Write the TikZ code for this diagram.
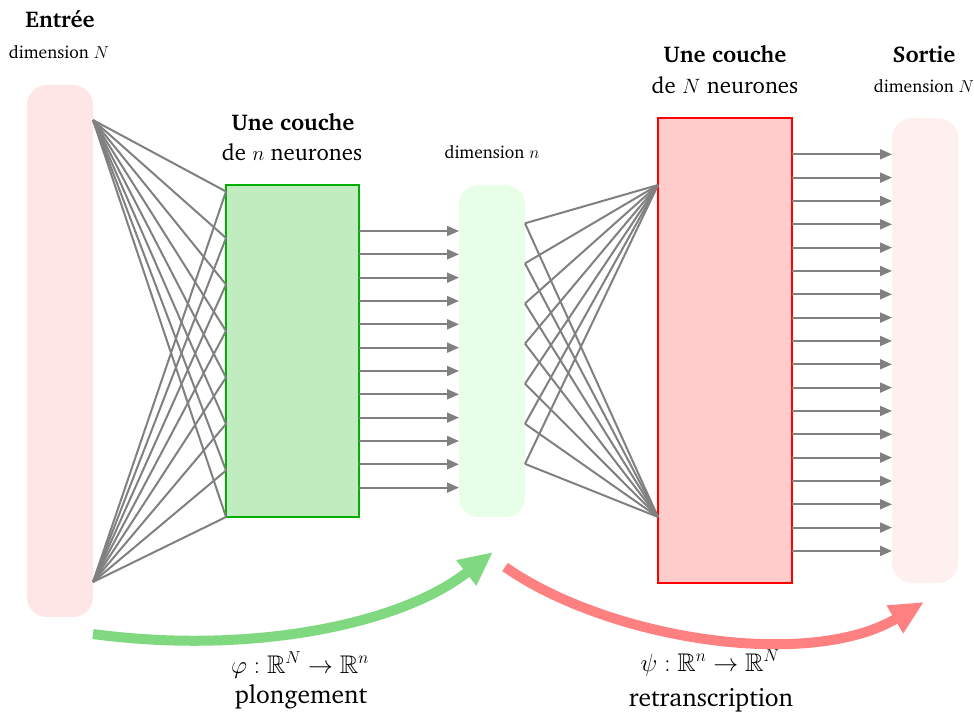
\documentclass[tikz,border=0pt]{standalone}
\usepackage[T1]{fontenc}
\usepackage{charter}
\usepackage{amssymb}
\usetikzlibrary{arrows.meta}
\definecolor{inbarc}{HTML}{FFE6E6}
\definecolor{outbarc}{HTML}{FFF0F0}
\definecolor{midbarc}{HTML}{E6FFE6}
\definecolor{gfillc}{HTML}{C0ECC0}
\definecolor{gdrawc}{HTML}{00B000}
\definecolor{rfillc}{HTML}{FFCCCC}
\definecolor{garrowc}{HTML}{80D880}
\definecolor{rarrowc}{HTML}{FF8080}
\definecolor{connc}{HTML}{808080}
\begin{document}
\begin{tikzpicture}[x=1pt,y=-1pt,
  bigtxt/.style={font=\fontsize{22.8}{27}\selectfont, anchor=base, inner sep=0pt},
  lowtxt/.style={font=\fontsize{25.5}{30}\selectfont, anchor=base, inner sep=0pt},
  smalltxt/.style={font=\fontsize{17.6}{21}\selectfont, anchor=base, inner sep=0pt},
  barbox/.style={rounded corners=20pt, inner sep=0pt, outer sep=0pt, anchor=north west, minimum width=66pt},
  layerbox/.style={line width=1.8pt, inner sep=0pt, outer sep=0pt, anchor=north west},
  conn/.style={draw=connc, line width=2pt},
  connarr/.style={draw=connc, line width=2pt, -{Triangle[length=12pt,width=10pt]}},
  bigarr/.style={line width=10pt, -{Triangle[length=34pt,width=30pt]}}]
\useasboundingbox (0,0) rectangle (974,713);

% bars and boxes
\node[barbox, fill=inbarc, minimum height=532pt] (in) at (27,85) {};
\node[layerbox, draw=gdrawc, fill=gfillc, minimum width=133pt, minimum height=332pt] (g) at (226,185) {};
\node[barbox, fill=midbarc, minimum height=332pt] (m) at (459,185) {};
\node[layerbox, draw=red, fill=rfillc, minimum width=134pt, minimum height=465pt] (r) at (658,118) {};
\node[barbox, fill=outbarc, minimum height=465pt] (o) at (892,118) {};

% input fan
\coordinate (in1) at (93,120);
\coordinate (in2) at (93,582);
\foreach \k in {0,...,7} {
  \coordinate (gl\k) at (226,191.5+46.5*\k);
  \draw[conn] (in1) -- (gl\k);
  \draw[conn] (in2) -- (gl\k);
}

% green layer outputs
\foreach \k in {0,...,11} {
  \draw[connarr] (g.east |- 0,231+23.33*\k) -- (m.west |- 0,231+23.33*\k);
}

% middle fan
\coordinate (r1) at (658,185);
\coordinate (r2) at (658,517);
\foreach \k in {0,...,6} {
  \coordinate (mr\k) at (525,223.3+40.1*\k);
  \draw[conn] (mr\k) -- (r1);
  \draw[conn] (mr\k) -- (r2);
}

% red layer outputs
\foreach \k in {0,...,17} {
  \draw[connarr] (r.east |- 0,154.3+23.33*\k) -- (o.west |- 0,154.3+23.33*\k);
}

% big arrows
\coordinate (ga) at (93,634);
\coordinate (gb) at (493,552);
\draw[bigarr, color=garrowc] (ga) .. controls (250,655) and (400,625) .. (gb);
\coordinate (ra) at (505,567);
\coordinate (rb) at (924,602);
\draw[bigarr, color=rarrowc] (ra) .. controls (610,640) and (810,670) .. (rb);

% labels
\node[bigtxt] (t1) at (60,27) {\textbf{Entr\'ee}};
\node[smalltxt] (t2) at (59,58) {dimension $N$};
\node[bigtxt] (t3) at (293,130) {\textbf{Une couche}};
\node[bigtxt] (t4) at (292,160) {de $n$ neurones};
\node[smalltxt] (t5) at (492,158) {dimension $n$};
\node[bigtxt] (t6) at (725,62) {\textbf{Une couche}};
\node[bigtxt] (t7) at (725,93) {de $N$ neurones};
\node[bigtxt] (t8) at (924,62) {\textbf{Sortie}};
\node[smalltxt] (t9) at (924,92) {dimension $N$};
\node[lowtxt] (t10) at (300,673) {$\varphi:\mathbb{R}^N\to\mathbb{R}^n$};
\node[lowtxt] (t11) at (301,703) {plongement};
\node[lowtxt] (t12) at (710,671) {$\psi:\mathbb{R}^n\to\mathbb{R}^N$};
\node[lowtxt] (t13) at (711,706) {retranscription};
\end{tikzpicture}
\end{document}
